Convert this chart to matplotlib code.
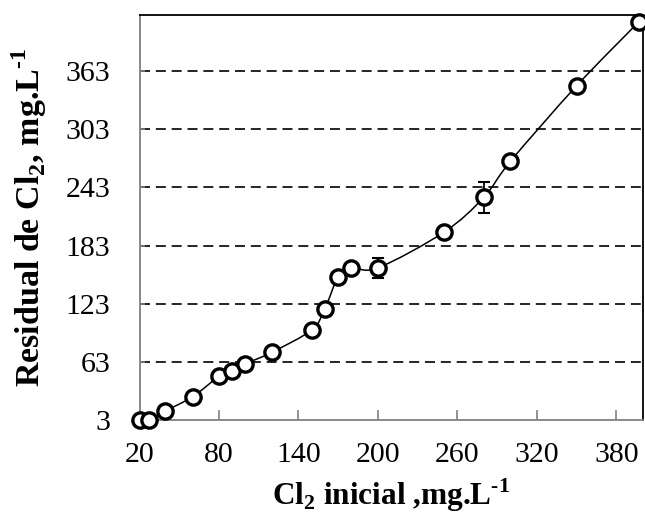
import numpy as np
import matplotlib
matplotlib.use('Agg')
import matplotlib.pyplot as plt
from matplotlib.path import Path
from matplotlib.patches import PathPatch

plt.rcParams['font.family'] = 'Liberation Serif'
plt.rcParams['mathtext.fontset'] = 'custom'
plt.rcParams['mathtext.rm'] = 'Liberation Serif'
plt.rcParams['mathtext.bf'] = 'Liberation Serif:bold'

# data
cl_inicial = [20, 27, 39, 60, 80, 90, 100, 120, 150, 160, 170, 180, 200, 250, 280, 300, 350, 397]
cl_residual = [3, 3, 12, 27, 48, 54, 61, 73, 96, 118, 151, 160, 160, 197, 233, 270, 348, 414]
err = [0, 0, 0, 0, 0, 0, 0, 0, 0, 0, 0, 4, 10, 0, 16, 0, 0, 0]

xticks = [20, 80, 140, 200, 260, 320, 380]
yticks = [3, 63, 123, 183, 243, 303, 363]

fig = plt.figure(figsize=(6.45, 5.16), dpi=100)
ax = fig.add_axes([0.2163, 0.186, 0.7805, 0.785])
ax.set_xlim(20, 400)
ax.set_ylim(3, 421)

# smooth line (excel-like) through the points
x = np.array(cl_inicial, float)
y = np.array(cl_residual, float)
verts = [(x[0], y[0])]
codes = [Path.MOVETO]
n = len(x)
for i in range(n - 1):
    p0 = np.array([x[max(i - 1, 0)], y[max(i - 1, 0)]])
    p1 = np.array([x[i], y[i]])
    p2 = np.array([x[i + 1], y[i + 1]])
    p3 = np.array([x[min(i + 2, n - 1)], y[min(i + 2, n - 1)]])
    c1 = p1 + (p2 - p0) / 6
    c2 = p2 - (p3 - p1) / 6
    verts += [tuple(c1), tuple(c2), tuple(p2)]
    codes += [Path.CURVE4] * 3
ax.add_patch(PathPatch(Path(verts, codes), fill=False, edgecolor='black', lw=1.1, zorder=3))

yerr = [e if e > 0 else np.nan for e in err]
ax.errorbar(cl_inicial, cl_residual, yerr=yerr, fmt='none', ecolor='black',
            elinewidth=1.3, capsize=4.5, capthick=1.5, zorder=4)
ax.plot(cl_inicial, cl_residual, 'o', ms=11, mfc='white', mec='black', mew=2.4,
        zorder=5, clip_on=False)

ax.set_xticks(xticks)
ax.set_yticks(yticks)
for yy in yticks[1:]:
    ax.axhline(yy, color='black', lw=1.2, ls=(0, (6, 3.5)), zorder=1)

ax.tick_params(axis='x', direction='in', length=7, width=1.2, color='#808080',
               labelsize=21.5, pad=16)
ax.tick_params(axis='y', direction='in', length=3.5, width=1.2, color='#808080',
               labelsize=21.5, pad=21)
ax.spines['left'].set_color('#808080')
ax.spines['bottom'].set_color('#808080')
ax.spines['top'].set_color('black')
ax.spines['right'].set_color('black')
for s in ax.spines.values():
    s.set_linewidth(1.3)

ax.set_xlabel('Cl$_{\\mathbf{2}}$ inicial ,mg.L$^{\\mathbf{\u20101}}$', fontsize=22.5,
              fontweight='bold', labelpad=6)
ax.set_ylabel('Residual de Cl$_{\\mathbf{2}}$, mg.L$^{\\mathbf{\u20101}}$', fontsize=24.5,
              fontweight='bold', labelpad=12)

fig.savefig('out.png', dpi=100)
